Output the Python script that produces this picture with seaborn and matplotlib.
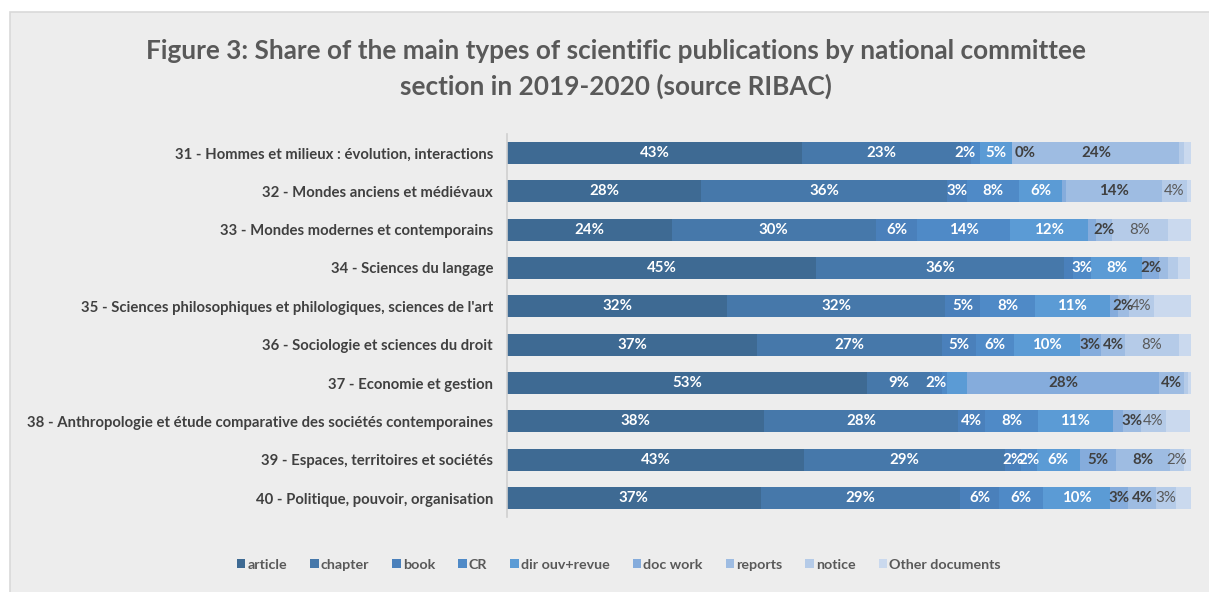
import numpy as np
import pandas as pd
import matplotlib
matplotlib.use("Agg")
import matplotlib.pyplot as plt
import matplotlib.patches as mpatches
import seaborn as sns

sections = [
    "31 - Hommes et milieux : évolution, interactions",
    "32 - Mondes anciens et médiévaux",
    "33 - Mondes modernes et contemporains",
    "34 - Sciences du langage",
    "35 - Sciences philosophiques et philologiques, sciences de l'art",
    "36 - Sociologie et sciences du droit",
    "37 - Economie et gestion",
    "38 - Anthropologie et étude comparative des sociétés contemporaines",
    "39 - Espaces, territoires et sociétés",
    "40 - Politique, pouvoir, organisation",
]
series = ["article", "chapter", "book", "CR", "dir ouv+revue",
          "doc work", "reports", "notice", "Other documents"]

article = [43.2, 28.4, 24.1, 45.2, 32.2, 36.6, 52.7, 37.6, 43.4, 37.1]
chapter = [23.0, 36.0, 29.8, 36.2, 31.8, 27.0, 9.1, 28.4, 29.4, 29.2]
book = [1.6, 2.8, 6.1, 1.3, 5.2, 4.9, 1.8, 3.9, 2.4, 5.7]
cr = [1.3, 7.7, 13.5, 2.7, 8.0, 5.6, 0.8, 7.7, 2.3, 6.4]
dir_ouv = [4.8, 6.3, 11.5, 7.5, 10.9, 9.6, 2.9, 11.0, 6.2, 9.8]
doc_work = [0.0, 0.5, 1.1, 2.4, 1.2, 3.1, 28.0, 1.4, 5.4, 2.6]
reports = [24.4, 14.0, 2.3, 1.4, 1.6, 3.6, 3.7, 2.7, 7.8, 4.1]
notice = [0.7, 3.7, 8.2, 1.4, 3.7, 7.8, 0.5, 3.6, 2.1, 2.9]
other = [1.0, 0.7, 3.4, 1.8, 5.4, 1.8, 0.5, 3.5, 1.0, 2.3]

values = [article, chapter, book, cr, dir_ouv, doc_work, reports, notice, other]

# data labels that the reference does not show
hidden_labels = [("37 - Economie et gestion", "dir ouv+revue")]

colors = ["#3e6a93", "#4678aa", "#4a80bb", "#4f8ac7", "#5b9bd5",
          "#85acdc", "#9ebce2", "#b5cbe8", "#cad9ee"]
label_styles = (["white"] * 5) + ["#404040", "#404040", "#595959", None]
label_weights = (["bold"] * 7) + ["normal", "normal"]

sns.set_theme(style="white")
plt.rcParams["font.family"] = ["Lato", "DejaVu Sans"]

bg = "#ededed"
fig = plt.figure(figsize=(12.09, 5.92), dpi=100, facecolor="white")
frame = mpatches.Rectangle((10 / 1209, -0.01), 1.02, 1 - 12 / 592 + 0.01,
                           transform=fig.transFigure, facecolor=bg,
                           edgecolor="#d9d9d9", linewidth=1.2, zorder=-10)
fig.patches.append(frame)
ax = fig.add_axes([507 / 1209, 1 - 517.2 / 592, (1191 - 507) / 1209, (517.2 - 133.8) / 592])
ax.set_zorder(5)
ax.patch.set_alpha(0)

df = pd.DataFrame(values, index=series, columns=sections).T
cum = df.cumsum(axis=1)

for i in range(len(series) - 1, -1, -1):
    s = series[i]
    d = pd.DataFrame({"section": sections, "cum": cum[s].values})
    sns.barplot(data=d, x="cum", y="section", color=colors[i], orient="h",
                width=0.57, ax=ax, saturation=1, linewidth=0)

for i, s in enumerate(series):
    col = label_styles[i]
    if col is None:
        continue
    for j, sec in enumerate(sections):
        if (sec, s) in hidden_labels:
            continue
        v = df.loc[sec, s]
        if v >= 1.5 or v == 0:
            x = cum.loc[sec, s] - v / 2
            if v == 0:
                x += 1.8
            ax.text(x, j, f"{int(round(v))}%", ha="center", va="center",
                    color=col, fontsize=10.8, fontweight=label_weights[i])

ax.set_xlim(0, 100)
ax.set_ylim(9.5, -0.5)
ax.set_xlabel("")
ax.set_ylabel("")
ax.set_xticks([])
ax.tick_params(axis="y", length=0, pad=10)
for lab in ax.get_yticklabels():
    lab.set_fontweight("bold")
    lab.set_color("#404040")
    lab.set_fontsize(10.75)
for sp in ["top", "right", "bottom"]:
    ax.spines[sp].set_visible(False)
ax.spines["left"].set_color("#d0d0d0")
ax.spines["left"].set_linewidth(1.2)

fig.text(616 / 1209, 1 - 51 / 592, "Figure 3: Share of the main types of scientific publications by national committee",
         ha="center", va="center", fontsize=18.8, fontweight="bold", color="#595959")
fig.text(616 / 1209, 1 - 86 / 592, "section in 2019-2020 (source RIBAC)",
         ha="center", va="center", fontsize=18.8, fontweight="bold", color="#595959")

handles = [mpatches.Patch(facecolor=c, edgecolor="none", label=s) for c, s in zip(colors, series)]
leg = fig.legend(handles=handles, loc="center", bbox_to_anchor=(619 / 1209, 1 - 565 / 592),
                 ncol=9, frameon=False, fontsize=10.3, handlelength=0.6, handleheight=0.6,
                 handletextpad=0.15, columnspacing=1.6)
for t in leg.get_texts():
    t.set_color("#595959")
    t.set_fontweight("bold")

fig.savefig("out.png", dpi=100, facecolor="white")
